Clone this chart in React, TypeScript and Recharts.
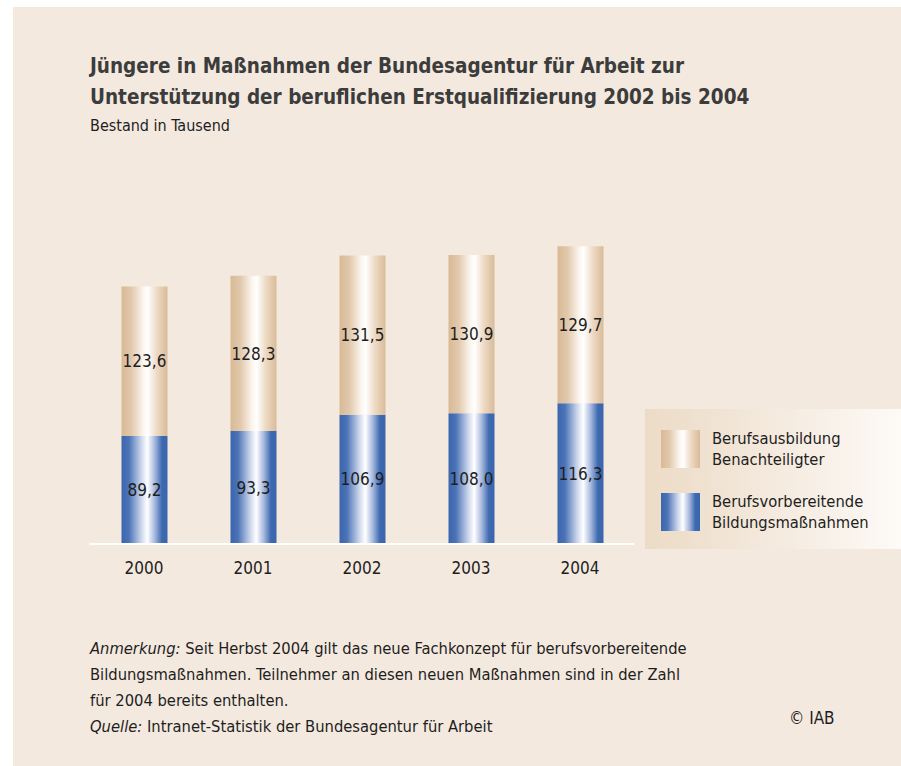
import React from 'react';
import { BarChart, Bar, XAxis, YAxis, LabelList } from 'recharts';

const years = ['2000', '2001', '2002', '2003', '2004'];
const vorbereitend = [89.2, 93.3, 106.9, 108.0, 116.3];
const benachteiligte = [123.6, 128.3, 131.5, 130.9, 129.7];

const data = years.map((year, i) => ({
  year,
  vorbereitend: vorbereitend[i],
  benachteiligte: benachteiligte[i],
}));

const FONT = '"DejaVu Sans Condensed", "Liberation Sans Narrow", "Open Sans", sans-serif';
const TEXT = '#1e1e1e';

const fmt = (v: number) => v.toFixed(1).replace('.', ',');

const tanGradient = 'linear-gradient(to right, #d8b994 0%, #e2c9ad 22%, #fbf5ee 47%, #ffffff 57%, #eedbc6 76%, #d9bb98 100%)';
const blueGradient = 'linear-gradient(to right, #3b66ae 0%, #4b73b6 16%, #c8d3ea 42%, #ffffff 56%, #a9badf 72%, #3d69b0 88%, #3b66ae 100%)';

function LegendItem({ bg, lines, top }: { bg: string; lines: string[]; top: number }) {
  return (
    <div style={{ position: 'absolute', left: 16, top }}>
      <div style={{ position: 'absolute', left: 0, top: 0, width: 39, height: 38, background: bg }} />
      <div style={{ position: 'absolute', left: 51, top: -2, fontSize: 16.4, lineHeight: '21px', color: TEXT, whiteSpace: 'nowrap' }}>
        {lines.map(l => <div key={l}>{l}</div>)}
      </div>
    </div>
  );
}

export default function App() {
  return (
    <div style={{ position: 'absolute', left: 0, top: 0, width: 901, height: 766, background: '#fff', fontFamily: FONT, overflow: 'hidden' }}>
      <div style={{ position: 'absolute', left: 13, top: 7, width: 888, height: 759, background: '#f4e9de' }} />

      <div style={{ position: 'absolute', left: 90, top: 51, fontSize: 20.5, fontWeight: 700, lineHeight: '31px', color: '#3c3c3c', whiteSpace: 'nowrap' }}>
        <div>Jüngere in Maßnahmen der Bundesagentur für Arbeit zur</div>
        <div>Unterstützung der beruflichen Erstqualifizierung 2002 bis 2004</div>
      </div>
      <div style={{ position: 'absolute', left: 90, top: 116, fontSize: 16, lineHeight: '20px', color: TEXT }}>
        Bestand in Tausend
      </div>

      <div style={{ position: 'absolute', left: 645, top: 409, width: 256, height: 140, background: 'linear-gradient(to right, #ecdbc6 0%, #f5ebe0 55%, #fdfaf7 100%)' }}>
        <LegendItem bg={tanGradient} top={21} lines={['Berufsausbildung', 'Benachteiligter']} />
        <LegendItem bg={blueGradient} top={84} lines={['Berufsvorbereitende', 'Bildungsmaßnahmen']} />
      </div>

      <div style={{ position: 'absolute', left: 0, top: 0 }}>
        <BarChart
          width={901}
          height={600}
          data={data}
          margin={{ top: 241.5, right: 266.5, bottom: 16, left: 89.5 }}
        >
          <defs>
            <linearGradient id="tan" x1="0" y1="0" x2="1" y2="0">
              <stop offset="0%" stopColor="#d8b994" />
              <stop offset="22%" stopColor="#e2c9ad" />
              <stop offset="47%" stopColor="#fbf5ee" />
              <stop offset="57%" stopColor="#ffffff" />
              <stop offset="76%" stopColor="#eedbc6" />
              <stop offset="100%" stopColor="#d9bb98" />
            </linearGradient>
            <linearGradient id="blue" x1="0" y1="0" x2="1" y2="0">
              <stop offset="0%" stopColor="#3b66ae" />
              <stop offset="16%" stopColor="#4b73b6" />
              <stop offset="42%" stopColor="#c8d3ea" />
              <stop offset="56%" stopColor="#ffffff" />
              <stop offset="72%" stopColor="#a9badf" />
              <stop offset="88%" stopColor="#3d69b0" />
              <stop offset="100%" stopColor="#3b66ae" />
            </linearGradient>
          </defs>
          <XAxis
            dataKey="year"
            axisLine={{ stroke: '#ffffff', strokeWidth: 2 }}
            tickLine={false}
            tickMargin={12}
            height={40}
            tick={{ fill: TEXT, fontSize: 17, fontFamily: FONT }}
          />
          <YAxis hide domain={[0, 250]} />
          <Bar dataKey="vorbereitend" stackId="a" fill="url(#blue)" barSize={46} isAnimationActive={false}>
            <LabelList dataKey="vorbereitend" position="center" formatter={(v: number) => fmt(v)} fill={TEXT} fontSize={17} fontFamily={FONT} />
          </Bar>
          <Bar dataKey="benachteiligte" stackId="a" fill="url(#tan)" barSize={46} isAnimationActive={false}>
            <LabelList dataKey="benachteiligte" position="center" formatter={(v: number) => fmt(v)} fill={TEXT} fontSize={17} fontFamily={FONT} />
          </Bar>
        </BarChart>
      </div>

      <div style={{ position: 'absolute', left: 90, top: 636, fontSize: 16.4, lineHeight: '26px', color: TEXT, whiteSpace: 'nowrap' }}>
        <div><i>Anmerkung:</i> Seit Herbst 2004 gilt das neue Fachkonzept für berufsvorbereitende</div>
        <div>Bildungsmaßnahmen. Teilnehmer an diesen neuen Maßnahmen sind in der Zahl</div>
        <div>für 2004 bereits enthalten.</div>
        <div><i>Quelle:</i> Intranet-Statistik der Bundesagentur für Arbeit</div>
      </div>
      <div style={{ position: 'absolute', left: 789, top: 707, fontSize: 17, lineHeight: '22px', color: TEXT }}>
        © IAB
      </div>
    </div>
  );
}
